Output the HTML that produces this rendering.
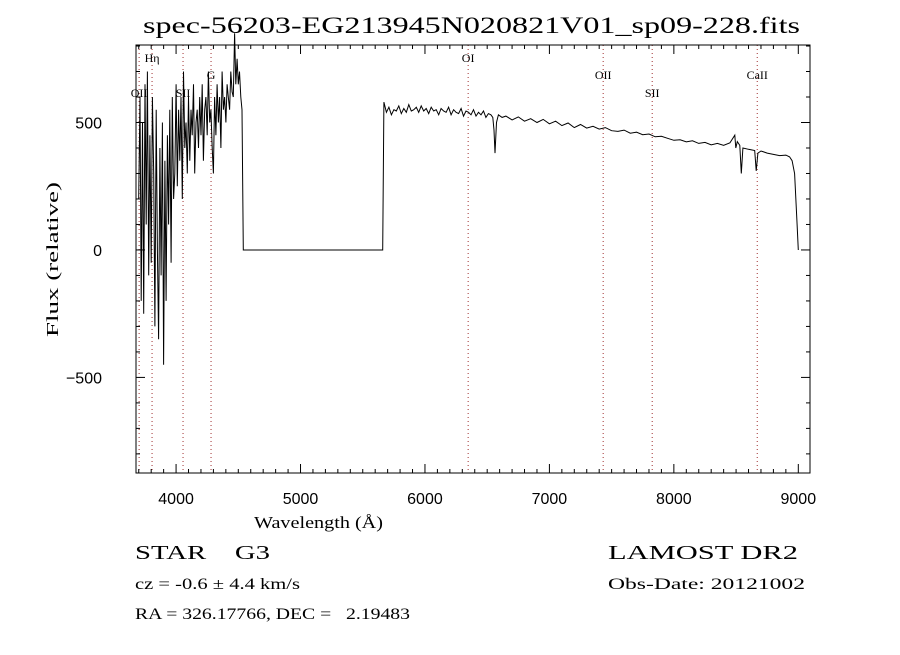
<!DOCTYPE html>
<html><head><meta charset="utf-8"><style>
body{margin:0;background:#fff;width:900px;height:650px;overflow:hidden}
svg text{fill:#000;white-space:pre}
</style></head><body>
<svg id="chart" width="900" height="650" xmlns="http://www.w3.org/2000/svg" font-family="Liberation Serif, serif">
<rect width="900" height="650" fill="#fff"/>
<text x="143" y="33" font-size="23" textLength="657" lengthAdjust="spacingAndGlyphs">spec-56203-EG213945N020821V01_sp09-228.fits</text>
<g id="lines"></g>
<g id="axes"></g>
<path id="spec" fill="none" stroke="#000" stroke-width="1"/>
<text x="254" y="528" font-size="17" textLength="129" lengthAdjust="spacingAndGlyphs">Wavelength (Å)</text>
<text transform="translate(58,337) rotate(-90)" font-size="17" textLength="155" lengthAdjust="spacingAndGlyphs">Flux (relative)</text>
<text x="135" y="559" font-size="20" textLength="135" lengthAdjust="spacingAndGlyphs">STAR    G3</text>
<text x="135" y="589" font-size="16" textLength="165" lengthAdjust="spacingAndGlyphs">cz = -0.6 ± 4.4 km/s</text>
<text x="135" y="619" font-size="16" textLength="275" lengthAdjust="spacingAndGlyphs">RA = 326.17766, DEC =   2.19483</text>
<text x="608" y="559" font-size="20" textLength="190" lengthAdjust="spacingAndGlyphs">LAMOST DR2</text>
<text x="608" y="589" font-size="16" textLength="197" lengthAdjust="spacingAndGlyphs">Obs-Date: 20121002</text>
</svg>
<script>
const xTicks=[4000,5000,6000,7000,8000,9000];
const yTicks=[-500,0,500];
const lineNames=["OII","Hη","SII","G","OI","OII","SII","CaII"];
const lineWaves=[3703,3807,4056,4281,6347,7432,7826,8670];
const lineLabelY=[97,62,97,79,62,79,97,79];
const blueWave=[3700,3710,3720,3730,3740,3750,3760,3770,3780,3790,3800,3810,3820,3830,3840,3850,3860,3870,3880,3890,3900,3910,3920,3930,3940,3950,3960,3970,3980,3990,4000,4010,4020,4030,4040,4050,4060,4070,4080,4090,4100,4110,4120,4130,4140,4150,4160,4170,4180,4190,4200,4210,4220,4230,4240,4250,4260,4270,4280,4290,4300,4310,4320,4330,4340,4350,4360,4370,4380,4390,4400,4410,4420,4430,4440,4450,4460,4470,4480,4490,4500,4510,4520,4530,4540];
const blueFlux=[200,600,-200,500,-250,650,100,700,-100,450,-50,600,300,-300,550,0,-350,400,-100,500,-450,350,-200,450,100,550,-50,600,200,300,650,250,550,350,600,200,700,400,500,300,600,350,550,450,650,300,500,550,400,600,450,650,350,550,600,450,700,500,550,400,300,600,450,650,500,600,400,700,550,600,500,650,600,550,700,620,600,850,650,750,650,700,600,550,0];
const redWave=[4550,5660,5670,5690,5710,5730,5750,5770,5790,5810,5830,5850,5870,5890,5910,5930,5950,5970,5990,6010,6030,6050,6070,6090,6110,6130,6150,6170,6190,6210,6230,6250,6270,6290,6310,6330,6350,6370,6390,6410,6430,6450,6470,6490,6510,6530,6545,6555,6563,6575,6590,6620,6650,6700,6750,6800,6850,6900,6950,7000,7050,7100,7150,7200,7250,7300,7350,7400,7450,7500,7550,7600,7650,7700,7750,7800,7850,7900,7950,8000,8050,8100,8150,8200,8250,8300,8350,8400,8450,8490,8498,8510,8530,8542,8555,8600,8650,8662,8675,8700,8750,8800,8850,8900,8930,8950,8970,8990,9000];
const redFlux=[0,0,580,540,560,530,550,545,565,535,555,540,570,545,550,560,540,565,545,555,535,560,545,550,530,555,545,540,560,530,550,540,535,555,525,545,540,530,550,525,540,530,545,520,535,530,520,470,380,500,530,520,525,510,522,505,515,500,512,495,505,488,498,480,492,478,485,474,480,468,465,470,458,462,452,455,444,446,438,430,432,424,428,418,422,412,418,410,420,450,400,425,410,300,400,395,390,310,380,388,380,375,370,372,365,350,300,100,0];
const X0=3678,X1=9094,PX0=136,PX1=810,Y0=-875,Y1=804,PY0=473,PY1=45;
const sx=w=>PX0+(w-X0)/(X1-X0)*(PX1-PX0);
const sy=f=>PY0-(f-Y0)/(Y1-Y0)*(PY0-PY1);
const NS="http://www.w3.org/2000/svg";
function mk(tag,attrs,parent){const e=document.createElementNS(NS,tag);for(const k in attrs)e.setAttribute(k,attrs[k]);parent.appendChild(e);return e;}
const ax=document.getElementById('axes');
const frame=mk('rect',{x:PX0,y:PY1,width:PX1-PX0,height:PY0-PY1,fill:'none',stroke:'#000','stroke-width':1},ax);


for(let w=3700;w<=9000;w+=100){const x=sx(w);const L=(w%1000===0)?9:4;
mk('line',{x1:x,x2:x,y1:PY0,y2:PY0-L,stroke:'#000'},ax);mk('line',{x1:x,x2:x,y1:PY1,y2:PY1+L,stroke:'#000'},ax);}
for(let f=-800;f<=800;f+=100){const y=sy(f);const L=(f%500===0)?9:4;
mk('line',{x1:PX0,x2:PX0+L,y1:y,y2:y,stroke:'#000'},ax);mk('line',{x1:PX1,x2:PX1-L,y1:y,y2:y,stroke:'#000'},ax);}
xTicks.forEach(v=>{const t=mk('text',{x:sx(v),y:PY0+31,'font-size':16,'text-anchor':'middle','font-family':'Liberation Sans, sans-serif'},ax);t.textContent=v;

});
yTicks.forEach(v=>{const t=mk('text',{x:PX0-34,y:sy(v)+6,'font-size':16,'text-anchor':'end','font-family':'Liberation Sans, sans-serif'},ax);t.textContent=v===-500?'−500':v;

});
const lg=document.getElementById('lines');
lineWaves.forEach((w,i)=>{const x=sx(w);
const l=mk('line',{x1:x,x2:x,y1:PY1,y2:PY0,stroke:'#a03030','stroke-dasharray':'1,3','stroke-width':1},lg);


const t=mk('text',{x:x,y:lineLabelY[i],'font-size':12,'text-anchor':'middle'},lg);t.textContent=lineNames[i];

});
const ws=blueWave.concat(redWave),fs=blueFlux.concat(redFlux);
document.getElementById('spec').setAttribute('d',ws.map((w,i)=>(i?'L':'M')+sx(w).toFixed(1)+','+sy(fs[i]).toFixed(1)).join(''));
</script>
</body></html>
